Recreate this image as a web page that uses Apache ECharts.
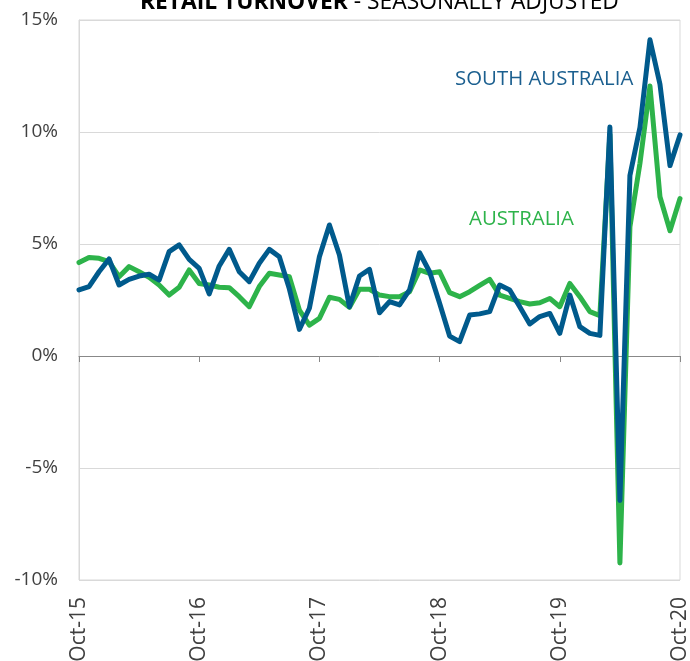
<!DOCTYPE html>
<html>
<head>
<meta charset="utf-8">
<script src="https://cdn.jsdelivr.net/npm/echarts@6/dist/echarts.min.js"></script>
<style>html,body{margin:0;padding:0;background:#fff;}#c{width:690px;height:661px;}</style>
</head>
<body>
<div id="c"></div>
<script>
const months = [];
const mNames = ['Jan','Feb','Mar','Apr','May','Jun','Jul','Aug','Sep','Oct','Nov','Dec'];
for (let k = 0; k <= 60; k++) {
  const m = (9 + k) % 12;
  const y = 15 + Math.floor((9 + k) / 12);
  months.push(mNames[m] + '-' + y);
}
const southAustralia = [
  2.95, 3.10, 3.76, 4.33, 3.17, 3.42, 3.57, 3.65, 3.39, 4.66, 4.96, 4.31,
  3.91, 2.77, 4.02, 4.76, 3.76, 3.32, 4.14, 4.76, 4.43, 3.00, 1.19, 2.13,
  4.43, 5.85, 4.51, 2.20, 3.57, 3.87, 1.93, 2.43, 2.28, 2.95, 4.61, 3.76,
  2.35, 0.89, 0.64, 1.83, 1.88, 1.98, 3.17, 2.95, 2.20, 1.43, 1.76, 1.90,
  1.01, 2.72, 1.31, 1.01, 0.92, 10.22, -6.45, 8.06, 10.2, 14.12, 12.13, 8.50,
  9.87
];
const australia = [
  4.17, 4.40, 4.36, 4.21, 3.54, 3.99, 3.76, 3.51, 3.17, 2.72, 3.07, 3.84,
  3.24, 3.17, 3.07, 3.05, 2.65, 2.20, 3.10, 3.69, 3.62, 3.54, 2.05, 1.38,
  1.68, 2.62, 2.53, 2.17, 2.98, 2.98, 2.72, 2.65, 2.65, 2.87, 3.84, 3.69,
  3.76, 2.83, 2.65, 2.87, 3.15, 3.42, 2.72, 2.57, 2.43, 2.32, 2.38, 2.57,
  2.20, 3.24, 2.65, 1.98, 1.80, 9.9, -9.24, 5.76, 8.6, 12.05, 7.11, 5.59,
  7.03
];
const yTicks = { min: -10, max: 15, interval: 5 };
const FONT = '"Open Sans", "Noto Sans", sans-serif';

const chart = echarts.init(document.getElementById('c'), null, { renderer: 'canvas' });
chart.setOption({
  animation: false,
  backgroundColor: '#ffffff',
  title: {
    text: '{b|RETAIL TURNOVER}{r| - SEASONALLY ADJUSTED}',
    left: 135,
    top: -14,
    textStyle: {
      rich: {
        b: { fontFamily: FONT, fontSize: 22.8, fontWeight: 'bold', color: '#000' },
        r: { fontFamily: FONT, fontSize: 22.8, fontWeight: 'normal', color: '#000' }
      }
    }
  },
  grid: {
    left: 79, right: 10, top: 20, bottom: 81,
    containLabel: false,
    outerBoundsMode: 'none',
    show: true, borderColor: '#d9d9d9', borderWidth: 1
  },
  xAxis: [
    {
      type: 'category',
      data: months,
      boundaryGap: false,
      axisLine: { onZero: true, lineStyle: { color: '#888888', width: 1 } },
      axisTick: { show: true, interval: 11, length: 6, lineStyle: { color: '#888888' } },
      axisLabel: { show: false },
      splitLine: { show: false }
    },
    {
      type: 'category',
      data: months,
      boundaryGap: false,
      position: 'bottom',
      axisLine: { show: false, onZero: false },
      axisTick: { show: false },
      axisLabel: {
        show: true, interval: 11, rotate: 90, margin: 17,
        fontFamily: FONT, fontSize: 21, color: '#404040'
      },
      splitLine: { show: false }
    }
  ],
  yAxis: {
    type: 'value',
    min: yTicks.min, max: yTicks.max, interval: yTicks.interval,
    axisLine: { show: true, lineStyle: { color: '#d9d9d9' } },
    axisTick: { show: false },
    axisLabel: {
      margin: 21, fontFamily: FONT, fontSize: 19, color: '#404040',
      formatter: v => v + '%'
    },
    splitLine: { show: true, lineStyle: { color: '#d9d9d9', width: 1 } }
  },
  series: [
    {
      name: 'AUSTRALIA', type: 'line', data: australia, xAxisIndex: 0,
      symbol: 'none', lineStyle: { color: '#2db34a', width: 5, join: 'round', cap: 'round' },
      itemStyle: { color: '#2db34a' }
    },
    {
      name: 'SOUTH AUSTRALIA', type: 'line', data: southAustralia, xAxisIndex: 0,
      symbol: 'none', lineStyle: { color: '#005a8c', width: 5, join: 'round', cap: 'round' },
      itemStyle: { color: '#005a8c' }
    }
  ],
  graphic: [
    { type: 'text', left: 455, top: 69, style: { text: 'SOUTH AUSTRALIA', font: '20.4px ' + FONT, fill: '#1b5f8f' } },
    { type: 'text', left: 469, top: 209, style: { text: 'AUSTRALIA', font: '20.4px ' + FONT, fill: '#2db34a' } }
  ]
});
</script>
</body>
</html>
